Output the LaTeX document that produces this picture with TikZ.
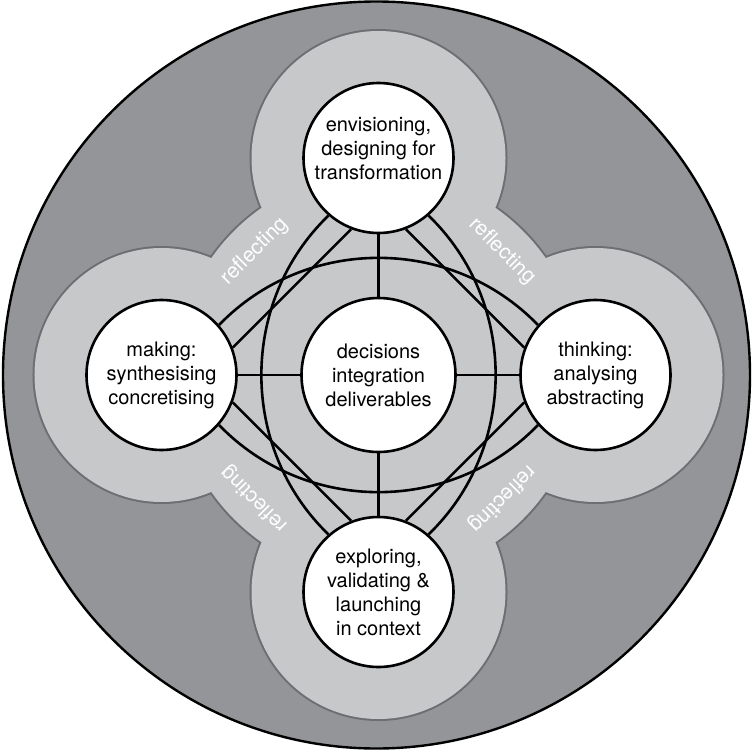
\documentclass[tikz,border=0pt]{standalone}
\usepackage{fontspec}
\setmainfont{TeX Gyre Heros}
\usepackage{xcolor}
\usepackage{tikz}
\usetikzlibrary{positioning, calc}

\definecolor{ringdark}{RGB}{147,149,152}
\definecolor{ringlight}{RGB}{199,200,202}
\definecolor{ringedge}{RGB}{109,110,113}

\begin{document}
\begin{tikzpicture}[x=50pt, y=50pt,
  hub/.style={circle, draw=black, line width=1.3pt, fill=white, inner sep=0pt,
    minimum size=75pt, align=center, font=\fontsize{10}{12}\selectfont},
  hubtext/.style={align=center, font=\fontsize{10}{12}\selectfont},
  link/.style={line width=1.3pt},
  tag/.style={text=white, inner sep=0pt, font=\fontsize{10.5}{12}\selectfont}]
  \def\rD{2.17}   % centre to outer nodes
  \def\rR{1.27}   % light ring round an outer node
  \def\rC{2.04}   % light disc in the middle
  \useasboundingbox (-3.785,-3.75) rectangle (3.745,3.75);
  % Dark outer disc
  \draw[line width=1.2pt, fill=ringdark] (-0.02,0) circle (3.735);
  % Light ring: stroke every circle, then fill over the inner half of the strokes
  \foreach \a in {0,90,180,270}
    \draw[ringedge, line width=2pt] (\a:\rD) circle (\rR);
  \draw[ringedge, line width=2pt] (0,0) circle (\rC);
  \foreach \a in {0,90,180,270}
    \fill[ringlight] (\a:\rD) circle (\rR);
  \fill[ringlight] (0,0) circle (\rC);
  % Reflecting labels between the nodes
  \node[tag, rotate=45] (refl tl) at (135:1.75) {reflecting};
  \node[tag, rotate=-45] (refl tr) at (45:1.75) {reflecting};
  \node[tag, rotate=135] (refl bl) at (225:1.75) {reflecting};
  \node[tag, rotate=225] (refl br) at (-45:1.75) {reflecting};
  % Nodes
  \node[hub, minimum size=77pt] (decisions) at (0,0) {decisions\\integration\\deliverables};
  \node[hub, label={[hubtext, yshift=4.5pt]center:envisioning,\\designing for\\transformation}]
    (envisioning) at (90:\rD) {};
  \node[hub] (making) at (180:\rD) {making:\\synthesising\\concretising};
  \node[hub] (thinking) at (0:\rD) {thinking:\\analysing\\abstracting};
  \node[hub] (exploring) at (270:\rD) {exploring,\\validating \&\\launching\\in context};
  % Spokes to the centre
  \foreach \n in {envisioning, making, thinking, exploring}
    \draw[link] (decisions) -- (\n);
  % Straight links between neighbours
  \draw[link] (envisioning.249) -- (making.21);
  \draw[link] (envisioning.291) -- (thinking.159);
  \draw[link] (exploring.111) -- (making.-21);
  \draw[link] (exploring.69) -- (thinking.-159);
  % Arcs across the centre
  \draw[link] (making.41) to[out=46, in=134] (thinking.139);
  \draw[link] (making.-41) to[out=-46, in=-134] (thinking.-139);
  \draw[link] (exploring.131) to[out=136, in=224] (envisioning.229);
  \draw[link] (exploring.49) to[out=44, in=-44] (envisioning.-49);
\end{tikzpicture}
\end{document}
